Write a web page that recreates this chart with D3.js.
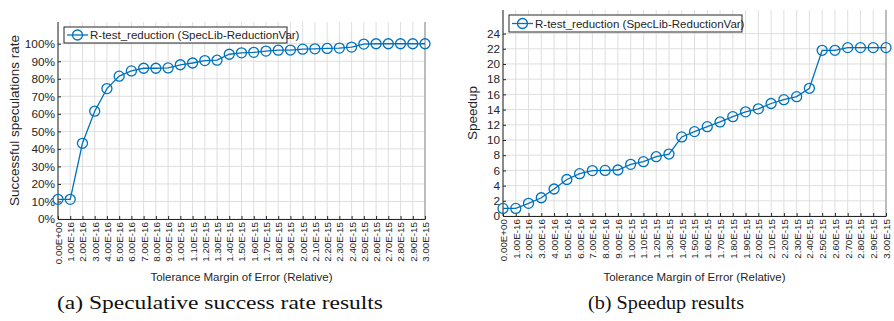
<!DOCTYPE html>
<html>
<head>
<meta charset="utf-8">
<script src="https://cdn.jsdelivr.net/npm/d3@7"></script>
<style>
  body { margin: 0; background: #fff; }
  svg { display: block; font-family: "Liberation Sans", Arial, sans-serif; }
</style>
</head>
<body>
<div id="chart"></div>
<script>
// tolerance values (x axis categories)
var toleranceLabels = ["0.00E+00","1.00E-16","2.00E-16","3.00E-16","4.00E-16","5.00E-16","6.00E-16","7.00E-16","8.00E-16","9.00E-16",
  "1.00E-15","1.10E-15","1.20E-15","1.30E-15","1.40E-15","1.50E-15","1.60E-15","1.70E-15","1.80E-15","1.90E-15",
  "2.00E-15","2.10E-15","2.20E-15","2.30E-15","2.40E-15","2.50E-15","2.60E-15","2.70E-15","2.80E-15","2.90E-15","3.00E-15"]

// successful speculations rate (fraction)
var successRate = [0.112, 0.112, 0.432, 0.615, 0.744, 0.815, 0.845, 0.86, 0.86, 0.862,
  0.88, 0.89, 0.904, 0.906, 0.94, 0.948, 0.951, 0.958, 0.963, 0.964,
  0.969, 0.971, 0.973, 0.975, 0.981, 0.998, 1.0, 1.0, 1.0, 1.0, 1.0]

// speedup
var speedup = [1.0, 1.0, 1.67, 2.4, 3.55, 4.8, 5.57, 5.97, 6.0, 6.05,
  6.8, 7.15, 7.8, 8.15, 10.4, 11.1, 11.75, 12.37, 13.07, 13.7,
  14.1, 14.8, 15.3, 15.7, 16.8, 21.8, 21.8, 22.15, 22.15, 22.15, 22.15]

var successTicks = [0, 0.1, 0.2, 0.3, 0.4, 0.5, 0.6, 0.7, 0.8, 0.9, 1.0]
var speedupTicks = [0, 2, 4, 6, 8, 10, 12, 14, 16, 18, 20, 22, 24]

var seriesName = "R-test_reduction (SpecLib-ReductionVar)"
var xTitle = "Tolerance Margin of Error (Relative)"
var blue = "#0072BD"

var svg = d3.select("#chart")
  .append("svg")
  .attr("width", 894)
  .attr("height", 321)

function makePanel(box, values, yTicks, yMax, yFormat, yTitle, caption, legendPos){
  var g = svg.append("g")

  var x = d3.scaleLinear()
        .domain([0, toleranceLabels.length - 1])
        .range([box.left, box.right])

  var y = d3.scaleLinear()
        .domain([0, yMax])
        .range([box.bottom, box.top])

  // grid
  g.append("g").selectAll("line.vg")
    .data(toleranceLabels)
    .enter().append("line")
    .attr("x1", (d, i) => x(i)).attr("x2", (d, i) => x(i))
    .attr("y1", box.top).attr("y2", box.bottom)
    .attr("stroke", "#dedede").attr("stroke-width", 1)

  g.append("g").selectAll("line.hg")
    .data(yTicks)
    .enter().append("line")
    .attr("x1", box.left).attr("x2", box.right)
    .attr("y1", d => y(d)).attr("y2", d => y(d))
    .attr("stroke", "#dedede").attr("stroke-width", 1)

  // right edge
  g.append("line")
    .attr("x1", box.right).attr("x2", box.right)
    .attr("y1", box.top).attr("y2", box.bottom)
    .attr("stroke", "#8a8a8a")

  // x axis, ticks pointing inward
  var xAxis = g.append("g")
     .attr("transform", "translate(0," + box.bottom + ")")
     .call(d3.axisTop(x)
        .tickValues(d3.range(toleranceLabels.length))
        .tickSize(3)
        .tickSizeOuter(0)
        .tickFormat(i => toleranceLabels[i]))
  xAxis.select(".domain").attr("stroke", "#262626")
  xAxis.selectAll(".tick line").attr("stroke", "#262626")
  xAxis.selectAll(".tick text")
     .attr("transform", "rotate(-90)")
     .attr("x", -3)
     .attr("y", 0)
     .attr("dy", "0.35em")
     .attr("text-anchor", "end")
     .style("font-size", "9.8px")
     .attr("fill", "#262626")

  // y axis, ticks pointing inward
  var yAxis = g.append("g")
     .attr("transform", "translate(" + box.left + ",0)")
     .call(d3.axisRight(y)
        .tickValues(yTicks)
        .tickSize(3)
        .tickSizeOuter(0)
        .tickFormat(yFormat))
  yAxis.select(".domain").attr("d", "M0," + box.top + "V" + box.bottom).attr("stroke", "#262626")
  yAxis.selectAll(".tick line").attr("stroke", "#262626")
  yAxis.selectAll(".tick text")
     .attr("x", -3)
     .attr("text-anchor", "end")
     .style("font-size", "11.8px")
     .attr("fill", "#262626")

  var drawLine = d3.line()
     .x((d, i) => x(i))
     .y(d => y(d))

  // the line
  g.append("path")
     .datum(values)
     .attr("fill", "none")
     .attr("stroke", blue)
     .attr("stroke-width", 1.3)
     .attr("d", drawLine)

  g.append("g").selectAll("circle")
     .data(values)
     .enter().append("circle")
     .attr("cx", (d, i) => x(i))
     .attr("cy", d => y(d))
     .attr("r", 5)
     .attr("fill", "none")
     .attr("stroke", blue)
     .attr("stroke-width", 1.3)

  // legend
  var lg = g.append("g").attr("transform", "translate(" + legendPos.x + "," + legendPos.y + ")")
  lg.append("rect")
     .attr("width", legendPos.w).attr("height", legendPos.h)
     .attr("fill", "#fff").attr("stroke", "#262626").attr("stroke-width", 1)
  lg.append("line")
     .attr("x1", 3).attr("x2", 24)
     .attr("y1", legendPos.h / 2).attr("y2", legendPos.h / 2)
     .attr("stroke", blue).attr("stroke-width", 1.3)
  lg.append("circle")
     .attr("cx", 13.5).attr("cy", legendPos.h / 2).attr("r", 5)
     .attr("fill", "none").attr("stroke", blue).attr("stroke-width", 1.3)
  lg.append("text")
     .attr("x", 26).attr("y", legendPos.h / 2)
     .attr("dy", "0.35em")
     .style("font-size", "11.5px")
     .attr("fill", "#262626")
     .text(seriesName)

  // titles
  g.append("text")
     .attr("transform", "translate(" + box.yTitleX + "," + ((box.top + box.bottom) / 2) + ") rotate(-90)")
     .attr("text-anchor", "middle")
     .style("font-size", "13.5px")
     .attr("fill", "#262626")
     .text(yTitle)

  g.append("text")
     .attr("x", (box.left + box.right) / 2)
     .attr("y", 281)
     .attr("text-anchor", "middle")
     .style("font-size", "11.5px")
     .attr("fill", "#262626")
     .text(xTitle)

  g.append("text")
     .attr("x", box.captionX)
     .attr("y", 309)
     .attr("text-anchor", "middle")
     .style("font-family", "'Liberation Serif', 'DejaVu Serif', serif")
     .style("font-size", "19px")
     .attr("fill", "#111")
     .attr("textLength", box.captionW)
     .attr("lengthAdjust", "spacingAndGlyphs")
     .text(caption)
}

makePanel({left: 58, right: 425, top: 22, bottom: 219, yTitleX: 19, captionX: 220, captionW: 326},
  successRate, successTicks, 1.124, d3.format(".0%"), "Successful speculations rate",
  "(a) Speculative success rate results", {x: 64, y: 27, w: 223, h: 16})

makePanel({left: 503, right: 886, top: 10, bottom: 216, yTitleX: 477, captionX: 666, captionW: 156},
  speedup, speedupTicks, 27.1, d3.format("d"), "Speedup",
  "(b) Speedup results", {x: 509, y: 15, w: 233, h: 17})
</script>
</body>
</html>
